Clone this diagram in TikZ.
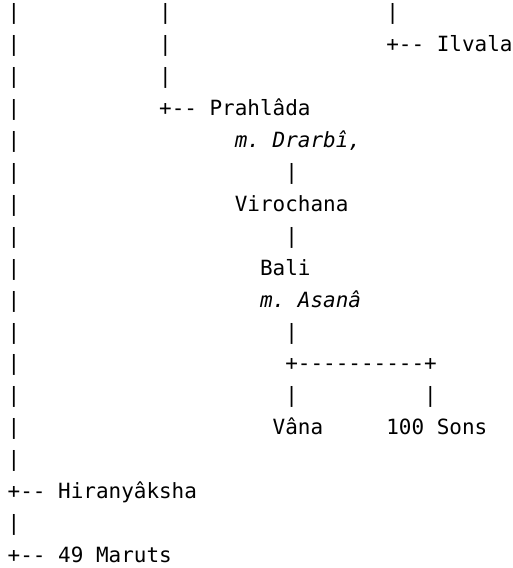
\documentclass[tikz,border=0pt]{standalone}
\usepackage{fontspec}
\setmonofont{DejaVu Sans Mono}
\newcommand\asciifont{\ttfamily\fontsize{21.04pt}{32bp}\selectfont}
\tikzset{
  x=1bp, y=-1bp,
  ascii/.style={anchor=base west, inner sep=0pt, outer sep=0pt, font=\asciifont, text=black},
  asciiit/.style={ascii, font=\asciifont\itshape}
}
% name, column, row, text
\newcommand\asc[4]{\node[ascii] (#1) at ({7.7+12.62*#2},{20+31.9*(#3-1)}) {#4};}
\newcommand\asci[4]{\node[asciiit] (#1) at ({7.7+12.62*#2},{20+31.9*(#3-1)}) {#4};}
\begin{document}
\begin{tikzpicture}
\fill[white] (0,0) rectangle (513,568);
\useasboundingbox (0,0) rectangle (513,568);
% left trunk
\asc{t1}{0}{1}{|}
\asc{t2}{0}{2}{|}
\asc{t3}{0}{3}{|}
\asc{t4}{0}{4}{|}
\asc{t5}{0}{5}{|}
\asc{t6}{0}{6}{|}
\asc{t7}{0}{7}{|}
\asc{t8}{0}{8}{|}
\asc{t9}{0}{9}{|}
\asc{t10}{0}{10}{|}
\asc{t11}{0}{11}{|}
\asc{t12}{0}{12}{|}
\asc{t13}{0}{13}{|}
\asc{t14}{0}{14}{|}
\asc{t15}{0}{15}{|}
\asc{hir}{0}{16}{+-- Hiranyâksha}
\asc{t17}{0}{17}{|}
\asc{mar}{0}{18}{+-- 49 Maruts}
% second branch
\asc{s1}{12}{1}{|}
\asc{s2}{12}{2}{|}
\asc{s3}{12}{3}{|}
\asc{pra}{12}{4}{+-- Prahlâda}
% Ilvala branch
\asc{i1}{30}{1}{|}
\asc{ilv}{30}{2}{+-- Ilvala}
% descendants
\asci{dra}{18}{5}{m. Drarbî,}
\asc{d6}{22}{6}{|}
\asc{vir}{18}{7}{Virochana}
\asc{d8}{22}{8}{|}
\asc{bal}{20}{9}{Bali}
\asci{asa}{20}{10}{m. Asanâ}
\asc{d11}{22}{11}{|}
\asc{fork}{22}{12}{+----------+}
\asc{d13a}{22}{13}{|}
\asc{d13b}{33}{13}{|}
\asc{van}{21}{14}{Vâna}
\asc{son}{30}{14}{100 Sons}
\end{tikzpicture}
\end{document}
